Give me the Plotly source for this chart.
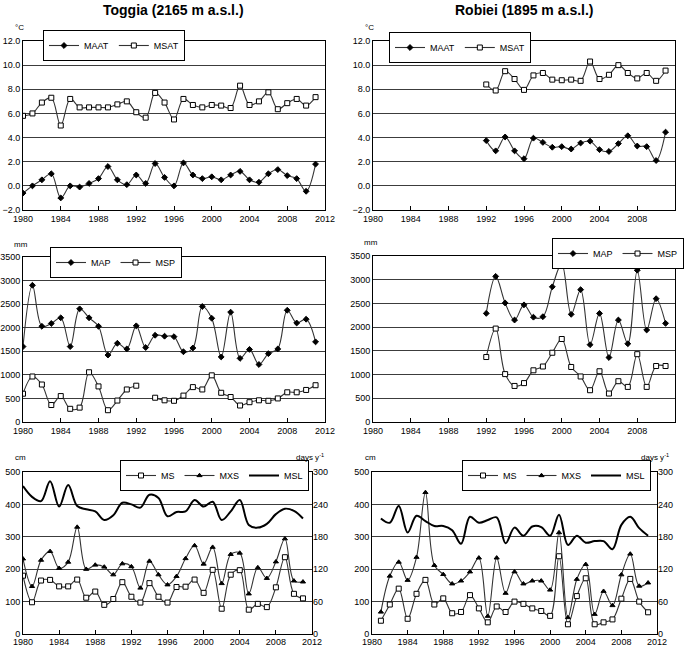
import plotly.graph_objects as go

W, H = 685, 647

# ---- Toggia (2165 m a.s.l.) ----
toggia_years = list(range(1980, 2012))
toggia_maat = [-0.6, 0.0, 0.5, 1.0, -1.0, 0.0, -0.1, 0.2, 0.6, 1.6, 0.5, 0.1, 0.9, 0.2, 1.85, 0.7,
               0.0, 1.9, 0.9, 0.6, 0.75, 0.5, 0.9, 1.2, 0.5, 0.3, 1.0, 1.35, 0.85, 0.6, -0.45, 1.8]
toggia_msat = [5.8, 6.0, 6.9, 7.3, 5.0, 7.2, 6.5, 6.5, 6.5, 6.5, 6.75, 7.0, 6.1, 5.65, 7.7, 6.9,
               5.5, 7.2, 6.7, 6.5, 6.7, 6.65, 6.45, 8.3, 6.7, 7.0, 7.75, 6.35, 6.85, 7.2, 6.65, 7.35]
toggia_map = [1600, 2900, 2030, 2090, 2210, 1600, 2400, 2210, 2030, 1420, 1670, 1550, 2040, 1580,
              1840, 1820, 1810, 1490, 1570, 2450, 2200, 1380, 2330, 1350, 1540, 1220, 1450, 1550,
              2370, 2100, 2180, 1700]
toggia_msp = [600, 965, 795, 360, 550, 280, 305, 1055, 755, 250, 455, 690, 770, None, 515, 460,
              450, 560, 740, 690, 990, 620, 530, 350, 420, 460, 450, 500, 630, 630, 680, 780]
toggia_ms = [180, 98, 165, 167, 147, 147, 168, 112, 131, 90, 108, 160, 115, 97, 157, 115,
             97, 145, 146, 168, 127, 198, 78, 183, 197, 75, 93, 83, 144, 237, 124, 110]
toggia_mxs = [232, 147, 228, 255, 203, 222, 330, 200, 213, 207, 183, 217, 208, 142, 225, 183,
              152, 178, 233, 273, 216, 268, 156, 246, 250, 124, 205, 172, 223, 294, 164, 161]
toggia_msl = [274, 254, 246, 283, 236, 276, 237, 231, 227, 211, 220, 243, 240, 234, 258, 252,
              218, 226, 227, 248, 236, 245, 211, 227, 248, 202, 197, 204, 222, 232, 228, 214]

# ---- Robiei (1895 m a.s.l.) ----
robiei_years = list(range(1992, 2012))
robiei_maat = [3.75, 2.9, 4.05, 2.9, 2.25, 3.95, 3.6, 3.2, 3.25, 3.05, 3.55, 3.7, 3.0, 2.85,
               3.5, 4.15, 3.3, 3.25, 2.1, 4.45]
robiei_msat = [8.4, 7.9, 9.5, 8.85, 7.95, 9.15, 9.35, 8.8, 8.75, 8.8, 8.7, 10.3, 8.85, 9.2,
               10.0, 9.35, 8.9, 9.35, 8.7, 9.55]
robiei_map = [2290, 3070, 2510, 2150, 2470, 2210, 2220, 2850, 3340, 2270, 2790, 1630, 2290, 1360,
              2150, 1650, 3200, 1940, 2600, 2080]
robiei_msp = [1370, 1970, 1010, 760, 820, 1090, 1170, 1460, 1750, 1160, 960, 670, 1070, 600,
              860, 740, 1430, 740, 1180, 1180]
robiei_snow_years = list(range(1981, 2012))
robiei_ms = [41, 91, 140, 47, 124, 167, 91, 110, 64, 68, 120, 79, 36, 85, 68, 100,
             93, 79, 71, 56, 240, 30, 117, 172, 30, 36, 45, 109, 170, 100, 67]
robiei_mxs = [68, 179, 222, 166, 237, 437, 212, 184, 155, 164, 192, 235, 55, 235, 126, 192,
              155, 164, 164, 136, 313, 51, 169, 215, 61, 132, 88, 183, 247, 148, 158]
robiei_msl = [214, 206, 237, 188, 219, 209, 200, 200, 192, 167, 217, 206, 211, 216, 168, 197,
              182, 199, 198, 182, 221, 165, 182, 169, 172, 172, 157, 202, 217, 196, 182]

x_ticks = list(range(1980, 2013, 4))

FONT = "Liberation Sans, Arial, sans-serif"
LINE = "#333333"
GRID = "#3c3c3c"


def px_x(v):
    return v / W


def px_y(v):
    return 1 - v / H


def x_axis(x0, x1, anchor, standoff=0):
    return dict(
        domain=[px_x(x0), px_x(x1)], anchor=anchor, range=[1980, 2012],
        tickvals=x_ticks, ticks="inside", ticklen=4, tickcolor="black",
        showline=True, linecolor="black", linewidth=1, mirror=True,
        showgrid=False, zeroline=False, automargin=False, ticklabelstandoff=standoff,
        tickfont=dict(size=9, color="black"),
    )


def y_axis(y0, y1, anchor, rng, dtick, fmt=None):
    ax = dict(
        domain=[px_y(y1), px_y(y0)], anchor=anchor, range=rng, dtick=dtick,
        showline=True, linecolor="black", linewidth=1, mirror=True,
        showgrid=True, gridcolor=GRID, gridwidth=1.3, zeroline=False,
        ticks="", automargin=False, tickfont=dict(size=9, color="black"),
    )
    if fmt:
        ax["tickformat"] = fmt
    return ax


def legend_box(x, y):
    return dict(
        orientation="h", x=px_x(x), y=px_y(y), xanchor="left", yanchor="top",
        bgcolor="white", bordercolor="black", borderwidth=1,
        font=dict(size=9, color="black", family=FONT), itemwidth=30,
        tracegroupgap=0, itemclick=False,
    )


def series(x, y, name, symbol, xa, ya, legend, filled=True, marker=True, width=1.1):
    mk = dict(symbol=symbol, size=4.5 if filled else 5, color="black" if filled else "white",
              line=dict(color="black", width=1))
    return go.Scatter(
        x=x, y=y, name=name, mode="lines+markers" if marker else "lines",
        line=dict(shape="spline", smoothing=1, color=LINE if marker else "black", width=width),
        marker=mk, xaxis=xa, yaxis=ya, legend=legend, connectgaps=False,
    )


fig = go.Figure()

# temperature
fig.add_trace(series(toggia_years, toggia_maat, "MAAT", "diamond", "x", "y", "legend"))
fig.add_trace(series(toggia_years, toggia_msat, "MSAT", "square", "x", "y", "legend", filled=False))
fig.add_trace(series(robiei_years, robiei_maat, "MAAT", "diamond", "x2", "y2", "legend2"))
fig.add_trace(series(robiei_years, robiei_msat, "MSAT", "square", "x2", "y2", "legend2", filled=False))

# precipitation
fig.add_trace(series(toggia_years, toggia_map, "MAP", "diamond", "x3", "y3", "legend3"))
fig.add_trace(series(toggia_years, toggia_msp, "MSP", "square", "x3", "y3", "legend3", filled=False))
fig.add_trace(series(robiei_years, robiei_map, "MAP", "diamond", "x4", "y4", "legend4"))
fig.add_trace(series(robiei_years, robiei_msp, "MSP", "square", "x4", "y4", "legend4", filled=False))

# snow
fig.add_trace(series(toggia_years, toggia_ms, "MS", "square", "x5", "y5", "legend5", filled=False))
fig.add_trace(series(toggia_years, toggia_mxs, "MXS", "triangle-up", "x5", "y5", "legend5"))
fig.add_trace(series(toggia_years, toggia_msl, "MSL", "circle", "x5", "y6", "legend5",
                     marker=False, width=2))
fig.add_trace(series(robiei_snow_years, robiei_ms, "MS", "square", "x6", "y7", "legend6", filled=False))
fig.add_trace(series(robiei_snow_years, robiei_mxs, "MXS", "triangle-up", "x6", "y7", "legend6"))
fig.add_trace(series(robiei_snow_years, robiei_msl, "MSL", "circle", "x6", "y8", "legend6",
                     marker=False, width=2))

days_axis = dict(
    side="right", range=[0, 300], dtick=60, showgrid=False,
    zeroline=False, ticks="", automargin=False, tickfont=dict(size=9, color="black"),
)

fig.update_layout(
    width=W, height=H,
    margin=dict(l=0, r=0, t=0, b=0),
    paper_bgcolor="white", plot_bgcolor="white",
    font=dict(family=FONT, size=9, color="black"),
    xaxis=x_axis(23, 325, "y"),
    yaxis=y_axis(41, 210, "x", [-2, 12], 2, ".1f"),
    xaxis2=x_axis(373, 675, "y2"),
    yaxis2=y_axis(41, 210, "x2", [-2, 12], 2, ".1f"),
    xaxis3=x_axis(23, 325, "y3"),
    yaxis3=y_axis(257, 422, "x3", [0, 3500], 500),
    xaxis4=x_axis(373, 675, "y4"),
    yaxis4=y_axis(256, 422, "x4", [0, 3500], 500),
    xaxis5=x_axis(23, 312, "y5", standoff=-1),
    yaxis5=y_axis(472, 634, "x5", [0, 500], 100),
    yaxis6=days_axis | dict(anchor="x5", overlaying="y5"),
    xaxis6=x_axis(372, 657, "y7", standoff=-1),
    yaxis7=y_axis(472, 634, "x6", [0, 500], 100),
    yaxis8=days_axis | dict(anchor="x6", overlaying="y7"),
    legend=legend_box(43, 30),
    legend2=legend_box(389, 32),
    legend3=legend_box(50, 247),
    legend4=legend_box(552, 238),
    legend5=legend_box(120, 460),
    legend6=legend_box(462, 460),
    showlegend=True,
)

titles = [
    (174, 10, "<b>Toggia (2165 m a.s.l.)</b>"),
    (524, 10, "<b>Robiei (1895 m a.s.l.)</b>"),
]
for x, y, text in titles:
    fig.add_annotation(text=text, x=px_x(x), y=px_y(y), xref="paper", yref="paper",
                       xanchor="center", yanchor="middle", showarrow=False,
                       font=dict(size=14, family=FONT, color="black"))

units = [
    (13, 28, "°C", "left"), (363, 28, "°C", "left"),
    (12, 244, "mm", "left"), (362, 243, "mm", "left"),
    (13, 457, "cm", "left"), (363, 457, "cm", "left"),
    (326, 457, "days y<sup>-1</sup>", "right"), (671, 457, "days y<sup>-1</sup>", "right"),
]
for x, y, text, anchor in units:
    fig.add_annotation(text=text, x=px_x(x), y=px_y(y), xref="paper", yref="paper",
                       xanchor=anchor, yanchor="middle", showarrow=False,
                       font=dict(size=8, family=FONT, color="black"))

# drop the browser's default body margin so the 685x647 figure fills the window
fig.write_html("out.html", config={"displayModeBar": False},
               post_script="document.body.style.margin = '0';")
